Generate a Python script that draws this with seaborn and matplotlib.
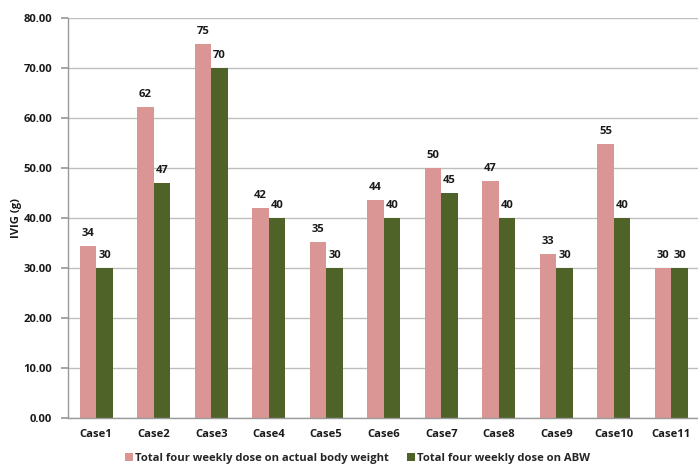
import matplotlib
matplotlib.use("Agg")
import matplotlib.pyplot as plt
import seaborn as sns
import pandas as pd
import numpy as np
from matplotlib.patches import Patch

categories = ["Case1", "Case2", "Case3", "Case4", "Case5", "Case6",
              "Case7", "Case8", "Case9", "Case10", "Case11"]
actual_bw = [34.4, 62.2, 74.8, 42.0, 35.2, 43.6, 50.0, 47.4, 32.7, 54.8, 30.0]
abw = [30, 47, 70, 40, 30, 40, 45, 40, 30, 40, 30]
series_names = ["Total four weekly dose on actual body weight",
                "Total four weekly dose on ABW"]
yticks = [0, 10, 20, 30, 40, 50, 60, 70, 80]
ylabel = "IVIG (g)"

colors = ["#D99694", "#4F6228"]

sns.set_theme(style="white")
plt.rcParams["font.family"] = ["Open Sans", "DejaVu Sans"]
plt.rcParams["font.weight"] = "bold"
FS = 8.1

df = pd.DataFrame({
    "case": categories * 2,
    "value": actual_bw + abw,
    "series": [series_names[0]] * len(categories) + [series_names[1]] * len(categories),
})

fig = plt.figure(figsize=(6.98, 4.66), dpi=100)
ax = fig.add_axes([67.5 / 698, 1 - 417.5 / 466, 632.5 / 698, 399.5 / 466])

sns.barplot(data=df, x="case", y="value", hue="series", order=categories,
            hue_order=series_names, palette=colors, width=0.574, gap=0,
            saturation=1, linewidth=0, ax=ax, legend=False)

for cont in ax.containers:
    labels = [f"{b.get_height():.0f}" for b in cont]
    ax.bar_label(cont, labels=labels, padding=5, fontsize=FS,
                 fontweight="bold", color="#1a1a1a")

ax.set_xlim(-0.5, len(categories) - 0.5)
ax.set_ylim(0, 80)
ax.set_yticks(yticks)
ax.set_yticklabels([f"{v:.2f}" for v in yticks], fontsize=FS, fontweight="bold",
                   color="#1a1a1a")
ax.yaxis.grid(True, color="#BEBEBE", linewidth=1.0)
ax.set_axisbelow(True)
ax.set_xlabel("")
ax.set_ylabel(ylabel, fontsize=FS, fontweight="bold", color="#1a1a1a")
ax.yaxis.set_label_coords(-0.072, 0.5)

ax.set_xticks(range(len(categories)))
ax.set_xticklabels(categories, fontsize=FS, fontweight="bold", color="#1a1a1a")
ax.tick_params(axis="x", which="major", length=0, pad=8)
ax.set_xticks(np.arange(-0.5, len(categories) + 0.5, 1), minor=True)
ax.tick_params(axis="x", which="minor", length=5, color="#9A9A9A", direction="out")
ax.tick_params(axis="y", length=5, color="#9A9A9A", direction="out", left=True, pad=6)

for s in ["top", "right"]:
    ax.spines[s].set_visible(False)
for s in ["left", "bottom"]:
    ax.spines[s].set_color("#9A9A9A")
    ax.spines[s].set_linewidth(1.0)

handles = [Patch(facecolor=c, edgecolor="none") for c in colors]
fig.legend(handles, series_names, loc="center", bbox_to_anchor=(0.512, 0.017),
           ncol=2, frameon=False, handlelength=0.7, handleheight=0.7,
           handletextpad=0.2, columnspacing=1.6,
           prop={"weight": "bold", "size": FS, "family": ["Open Sans", "DejaVu Sans"]})

fig.savefig("out.png", dpi=100)
